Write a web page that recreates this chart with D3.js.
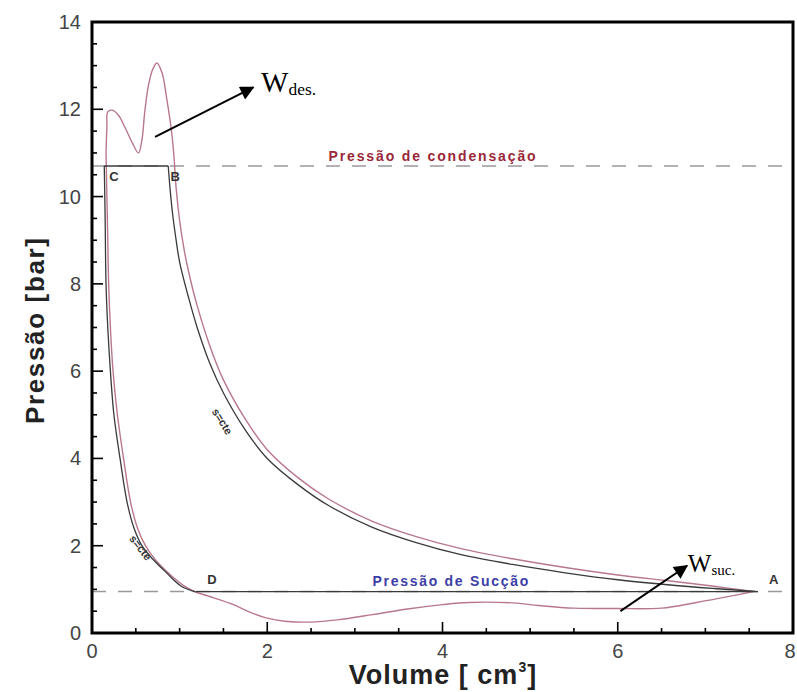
<!DOCTYPE html>
<html><head><meta charset="utf-8">
<script src="https://cdn.jsdelivr.net/npm/d3@7"></script>
<style>body{margin:0;background:#fff;} svg{display:block;font-family:"Liberation Sans",Arial,sans-serif;}</style>
</head><body>
<svg id="c" width="797" height="692"></svg>
<script>
// ---- data ----
const xTicks = [0, 2, 4, 6, 8];
const yTicks = [0, 2, 4, 6, 8, 10, 12, 14];
const pCond = 10.7;   // pressão de condensação
const pSuc = 0.95;    // pressão de sucção
// ideal cycle (black)
const idealCompression = [[7.6,0.95],[7.1,1.02],[6.6,1.1],[6.0,1.22],[5.4,1.38],[4.8,1.57],[4.2,1.8],[3.7,2.07],[3.2,2.42],[2.7,2.92],[2.35,3.4],[2.0,4.0],[1.75,4.65],[1.5,5.5],[1.35,6.15],[1.2,7.0],[1.1,7.7],[1.0,8.5],[0.96,9.0],[0.92,9.6],[0.89,10.2],[0.87,10.7]];
const idealExpansion = [[0.14,10.7],[0.15,9.5],[0.16,8],[0.18,7],[0.21,6],[0.25,5],[0.32,4],[0.4,3],[0.48,2.4],[0.57,2.0],[0.69,1.7],[0.85,1.38],[1.02,1.07],[1.18,0.94]];
const pointB = [0.87, 10.7], pointC = [0.14, 10.7], pointD = [1.18, 0.95], pointA = [7.6, 0.95];
// real cycle (pink)
const realCompression = [[7.55,0.95],[7.1,1.07],[6.6,1.19],[6.0,1.33],[5.4,1.5],[4.8,1.7],[4.2,1.94],[3.7,2.21],[3.2,2.56],[2.7,3.07],[2.35,3.56],[2.0,4.2],[1.75,4.9],[1.5,5.8],[1.35,6.55],[1.2,7.5],[1.1,8.3],[1.05,8.8],[1.0,9.45],[0.96,10.2],[0.94,10.8]];
const realDischarge = [[0.94,10.8],[0.91,11.46],[0.85,12.28],[0.80,12.83],[0.74,13.06],[0.69,12.9],[0.64,12.5],[0.60,11.9],[0.57,11.3],[0.53,11.0],[0.46,11.23],[0.38,11.57],[0.30,11.87],[0.23,11.98],[0.18,11.94],[0.17,11.6],[0.16,11.0]];
const realExpansion = [[0.16,11.0],[0.17,10.0],[0.18,9.0],[0.19,8],[0.21,7],[0.24,6],[0.29,5],[0.36,4],[0.44,3],[0.52,2.4],[0.61,2.0],[0.73,1.66],[0.89,1.34],[1.05,1.08],[1.18,0.94]];
const realSuction = [[1.18,0.94],[1.4,0.8],[1.6,0.66],[1.8,0.48],[2.0,0.34],[2.2,0.27],[2.5,0.25],[2.8,0.3],[3.2,0.42],[3.6,0.55],[4.0,0.65],[4.3,0.7],[4.8,0.69],[5.1,0.63],[5.5,0.57],[6.0,0.56],[6.5,0.57],[6.9,0.7],[7.3,0.85],[7.55,0.95]];
// annotations: [tailV, tailP, tipV, tipP]
const arrows = [[0.72,11.37,1.84,12.5],[6.03,0.5,6.79,1.54]];
const workLabels = [{v:1.93,p:12.4,main:"W",sub:"des.",size:29},{v:6.8,p:1.4,main:"W",sub:"suc.",size:25}];
const pointLabels = [{t:"C",v:0.25,p:10.35},{t:"B",v:0.95,p:10.35},{t:"D",v:1.37,p:1.13},{t:"A",v:7.78,p:1.13}];

// ---- layout ----
const L = 92, R = 793, T = 22, B = 633;
const svg = d3.select("#c");
const x = d3.scaleLinear().domain([0, 8]).range([L, R]);
const y = d3.scaleLinear().domain([0, 14]).range([B, T]);

// reference dashed lines
[pCond, pSuc].forEach(p => {
  svg.append("line").attr("x1", x(0)).attr("x2", x(8)).attr("y1", y(p)).attr("y2", y(p))
    .attr("stroke", "#999").attr("stroke-width", 1.6).attr("stroke-dasharray", "14 12");
});

const line = d3.line().x(d => x(d[0])).y(d => y(d[1]));
const smooth = d3.line().x(d => x(d[0])).y(d => y(d[1])).curve(d3.curveCatmullRom.alpha(0.5));

// pink real cycle
const pink = "#b8788a";
[realCompression, realDischarge, realExpansion, realSuction].forEach(s => {
  svg.append("path").attr("d", smooth(s)).attr("fill", "none").attr("stroke", pink).attr("stroke-width", 1.4);
});
// black ideal cycle
const dark = "#3a3a3a";
[idealCompression, idealExpansion].forEach(s => {
  svg.append("path").attr("d", smooth(s)).attr("fill", "none").attr("stroke", dark).attr("stroke-width", 1.3);
});
[[pointC, pointB], [pointD, pointA]].forEach(s => {
  svg.append("path").attr("d", line(s)).attr("fill", "none").attr("stroke", dark).attr("stroke-width", 1.3);
});

// line text labels
svg.append("text").attr("x", x(2.7)).attr("y", y(pCond) - 5).text("Pressão de condensação")
  .attr("font-size", 14).attr("font-weight", "bold").attr("fill", "#9a2838")
  .attr("textLength", 207).attr("lengthAdjust", "spacing");
svg.append("text").attr("x", x(3.2)).attr("y", y(pSuc) - 6).text("Pressão de Sucção")
  .attr("font-size", 14).attr("font-weight", "bold").attr("fill", "#3d3da8")
  .attr("textLength", 156).attr("lengthAdjust", "spacing");

// point labels
pointLabels.forEach(d => {
  svg.append("text").attr("x", x(d.v)).attr("y", y(d.p)).attr("text-anchor", "middle")
    .attr("font-size", 13).attr("font-weight", "bold").attr("fill", "#333").text(d.t);
});

// s=cte labels
[[1.45, 4.8, 58], [0.52, 1.9, 52]].forEach(d => {
  svg.append("text").attr("transform", `translate(${x(d[0])},${y(d[1])}) rotate(${d[2]})`)
    .attr("text-anchor", "middle").attr("font-size", 11).attr("font-weight", "bold").attr("fill", "#333")
    .text("s=cte");
});

// arrows
svg.append("defs").append("marker").attr("id", "ah").attr("viewBox", "0 0 10 10")
  .attr("refX", 9).attr("refY", 5).attr("markerWidth", 16).attr("markerHeight", 14)
  .attr("markerUnits", "userSpaceOnUse").attr("orient", "auto")
  .append("path").attr("d", "M0,0L10,5L0,10Z").attr("fill", "#000");
arrows.forEach(a => {
  svg.append("line").attr("x1", x(a[0])).attr("y1", y(a[1])).attr("x2", x(a[2])).attr("y2", y(a[3]))
    .attr("stroke", "#000").attr("stroke-width", 2).attr("marker-end", "url(#ah)");
});
workLabels.forEach(d => {
  const t = svg.append("text").attr("x", x(d.v)).attr("y", y(d.p))
    .attr("font-family", "'Liberation Serif','Times New Roman',serif").attr("font-size", d.size).attr("fill", "#000");
  t.append("tspan").text(d.main);
  t.append("tspan").attr("font-size", d.size * 0.6).attr("dy", 3).text(d.sub);
});

// axes ticks (inward)
const minorX = d3.range(0, 8.01, 0.5), minorY = d3.range(0, 14.01, 0.5);
const tg = svg.append("g").attr("stroke", "#000").attr("stroke-width", 1.6);
minorX.forEach(v => {
  const major = xTicks.includes(v);
  tg.append("line").attr("x1", x(v)).attr("x2", x(v)).attr("y1", B).attr("y2", B - (major ? 11 : 5));
});
minorY.forEach(v => {
  const major = yTicks.includes(v);
  tg.append("line").attr("x1", L).attr("x2", L + (major ? 11 : 5)).attr("y1", y(v)).attr("y2", y(v));
});
// frame
svg.append("rect").attr("x", L).attr("y", T).attr("width", R - L).attr("height", B - T)
  .attr("fill", "none").attr("stroke", "#000").attr("stroke-width", 3);

// tick labels
xTicks.forEach(v => {
  svg.append("text").attr("x", v === 8 ? x(v) - 3 : x(v)).attr("y", B + 25).attr("text-anchor", "middle")
    .attr("font-size", 20).attr("fill", "#444").text(v);
});
yTicks.forEach(v => {
  svg.append("text").attr("x", L - 11).attr("y", y(v) + 7).attr("text-anchor", "end")
    .attr("font-size", 20).attr("fill", "#444").text(v);
});

// axis titles
const xt = svg.append("text").attr("x", 443).attr("y", 684).attr("text-anchor", "middle")
  .attr("font-size", 27).attr("font-weight", "bold").attr("fill", "#222").attr("letter-spacing", 1);
xt.append("tspan").text("Volume [ cm");
xt.append("tspan").attr("font-size", 14).attr("dy", -12).text("3");
xt.append("tspan").attr("dy", 12).text("]");
svg.append("text").attr("transform", "translate(44,331) rotate(-90)").attr("text-anchor", "middle")
  .attr("font-size", 26).attr("font-weight", "bold").attr("fill", "#222")
  .attr("textLength", 186).attr("lengthAdjust", "spacing").text("Pressão [bar]");
</script>
</body></html>
